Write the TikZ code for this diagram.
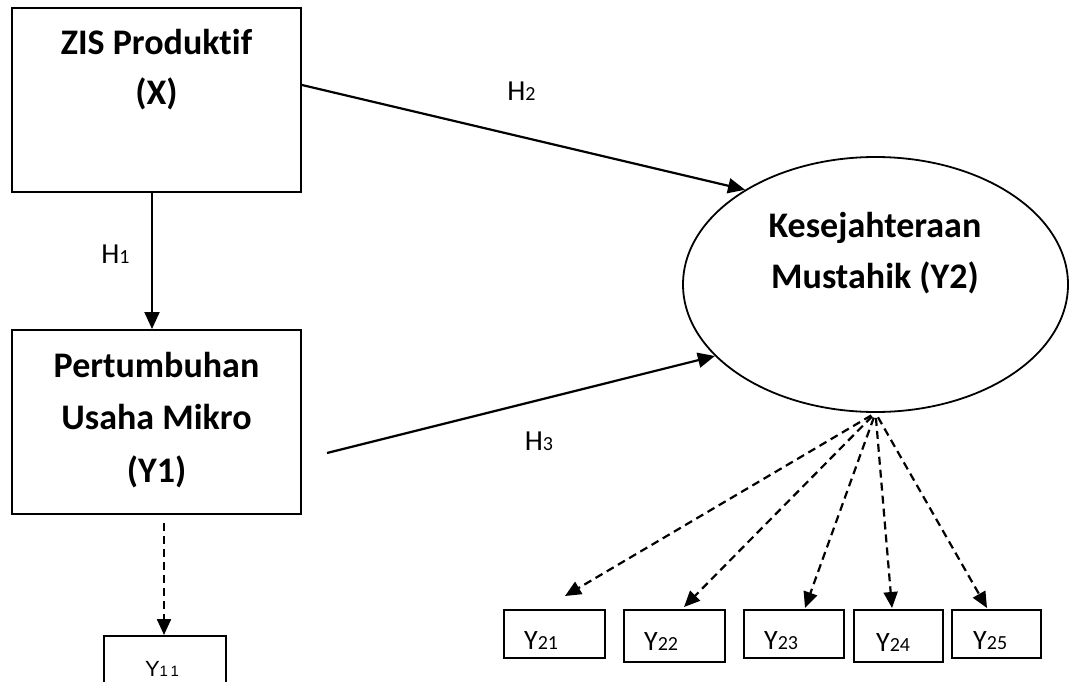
\documentclass[tikz,border=0pt]{standalone}
\usepackage{fontspec}
\setmainfont{Carlito}[Ligatures=NoCommon]
\newfontfamily\arialfont{Liberation Sans}
\usetikzlibrary{arrows.meta,shapes.geometric}
\newcommand{\subdig}[1]{{\fontsize{20}{24}\selectfont #1}}
\begin{document}
\begin{tikzpicture}[x=1pt,y=-1pt,
  box/.style={draw, line width=2pt, inner sep=0pt, rectangle},
  bigtxt/.style={font=\bfseries\fontsize{36}{51}\selectfont, align=center, inner sep=0pt, anchor=base},
  hlab/.style={font=\fontsize{29}{35}\selectfont, inner sep=0pt, anchor=base},
  ylab/.style={font=\fontsize{28}{34}\selectfont, inner sep=0pt, anchor=base west},
  solidarrow/.style={line width=2.2pt, -{Triangle[length=17pt,width=15pt]}},
  dasharrow/.style={line width=2.2pt, dash pattern=on 8pt off 5pt, -{Triangle[length=16pt,width=14pt]}},
]
\clip (0,0) rectangle (1070,682);
\fill[white] (0,0) rectangle (1070,682);

% boxes
\node[box, minimum width=289pt, minimum height=184pt] (X) at (156.5,100) {};
\node[box, minimum width=289pt, minimum height=184pt] (Y1) at (156.5,422) {};
\node[box, minimum width=122pt, minimum height=80pt] (Y11) at (165,676) {};
\node[draw, ellipse, line width=1.8pt, minimum width=385pt, minimum height=255pt, inner sep=0pt] (Y2) at (875.5,284.5) {};
\node[box, minimum width=101pt, minimum height=48pt] (Y21) at (554.5,634) {};
\node[box, minimum width=101pt, minimum height=52pt] (Y22) at (674.5,636) {};
\node[box, minimum width=100pt, minimum height=48pt] (Y23) at (794,634) {};
\node[box, minimum width=89pt, minimum height=52pt] (Y24) at (898.5,636) {};
\node[box, minimum width=89pt, minimum height=48pt] (Y25) at (996.5,634) {};

% texts
\node[bigtxt, font=\bfseries\fontsize{36}{50}\selectfont] (Xt) at (156.5,105) {ZIS Produktif\\(X)};
\node[bigtxt, font=\bfseries\fontsize{36}{52.5}\selectfont] (Y1t) at (156.5,482) {Pertumbuhan\\Usaha Mikro\\(Y1)};
\node[bigtxt] (Y2t) at (875,288) {Kesejahteraan\\Mustahik (Y2)};

\node[hlab] (H1) at (115.5,263) {H\subdig{1}};
\node[hlab] (H2) at (521.5,101) {H\subdig{2}};
\node[hlab] (H3) at (539,450) {H\subdig{3}};

\node[ylab] (t21) at ([xshift=21pt,yshift=10pt]Y21.south west) {Y\subdig{21}};
\node[ylab] (t22) at ([xshift=21pt,yshift=13pt]Y22.south west) {Y\subdig{22}};
\node[ylab] (t23) at ([xshift=21pt,yshift=10pt]Y23.south west) {Y\subdig{23}};
\node[ylab] (t24) at ([xshift=23pt,yshift=12pt]Y24.south west) {Y\subdig{24}};
\node[ylab] (t25) at ([xshift=22pt,yshift=10pt]Y25.south west) {Y\subdig{25}};
\node[font=\arialfont\fontsize{22}{26}\selectfont, inner sep=0pt, anchor=base] (t11) at (162,676) {Y{\fontsize{15}{18}\selectfont 1\,1}};

% connectors
\coordinate (h3s) at (327,453);
\draw[solidarrow] ([xshift=-4.5pt]X.south) -- ([xshift=-4.5pt]Y1.north);
\draw[solidarrow] ([yshift=15pt]X.east) -- (Y2.144);
\draw[solidarrow] (h3s) -- (Y2.204);
\draw[dasharrow] ([xshift=7.5pt,yshift=-8pt]Y1.south) -- ([xshift=-1pt]Y11.north);
\draw[dasharrow, shorten <=5pt] (Y2.south) -- ([xshift=10.5pt,yshift=13pt]Y21.north);
\draw[dasharrow, shorten <=5pt] (Y2.south) -- ([xshift=9.5pt,yshift=2pt]Y22.north);
\draw[dasharrow, shorten <=5pt] (Y2.south) -- ([xshift=11pt,yshift=1pt]Y23.north);
\draw[dasharrow, shorten <=5pt] (Y2.south) -- ([xshift=-6.5pt,yshift=1pt]Y24.north);
\draw[dasharrow, shorten <=5pt] (Y2.south) -- ([xshift=-9.5pt,yshift=1pt]Y25.north);
\end{tikzpicture}
\end{document}
